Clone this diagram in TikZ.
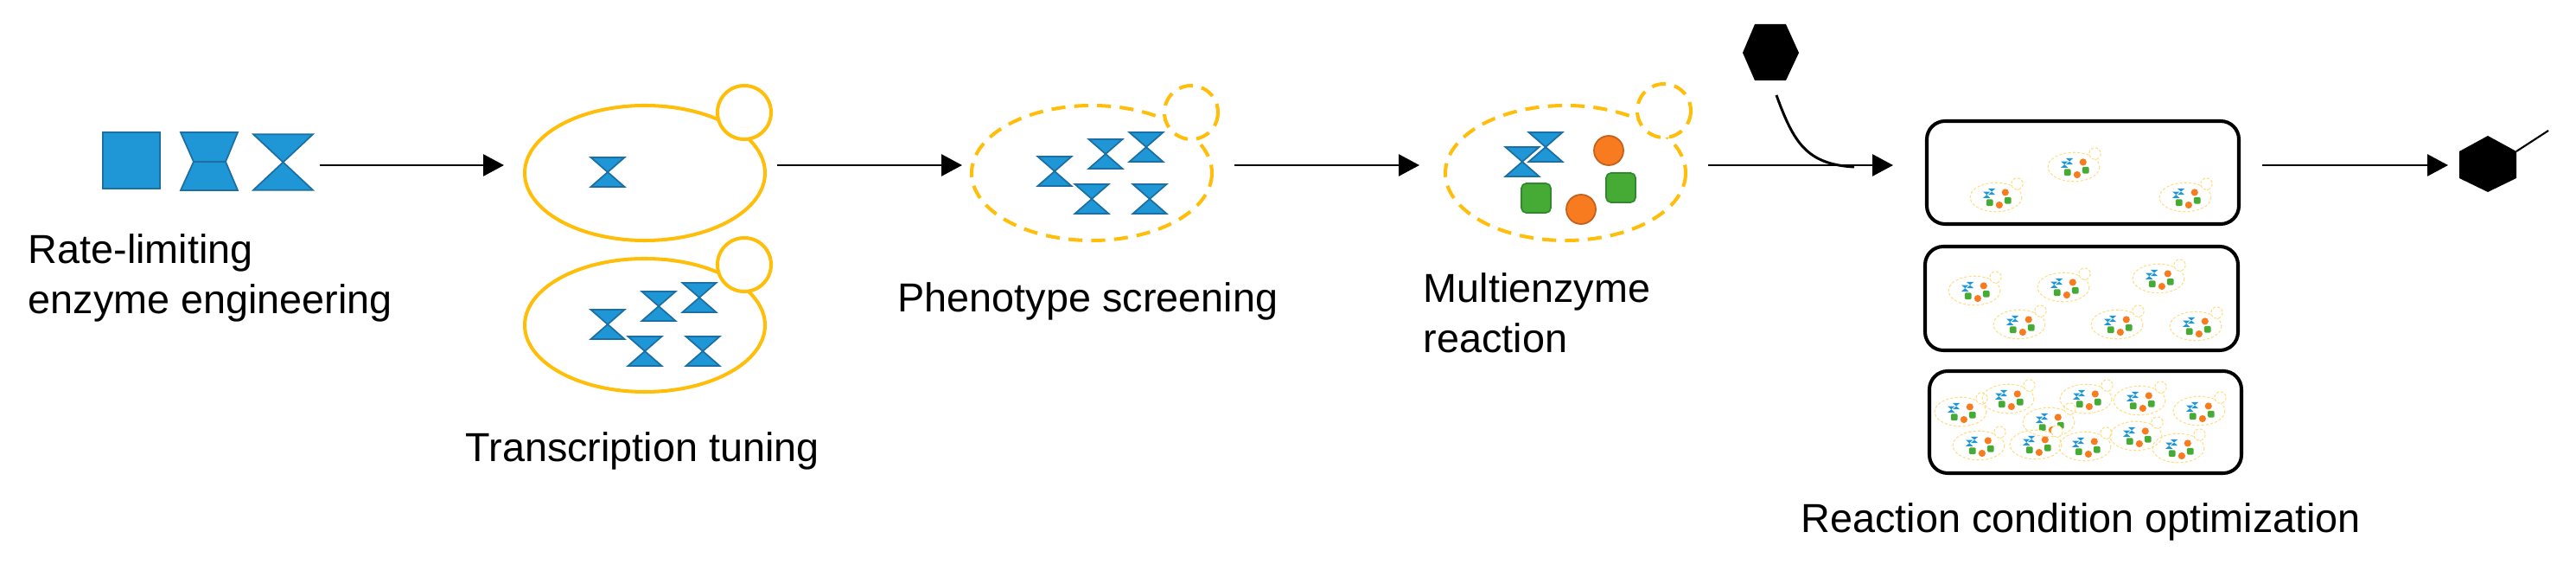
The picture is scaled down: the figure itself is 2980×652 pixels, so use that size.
\documentclass[tikz,border=0pt]{standalone}
\usepackage{fontspec}
\setmainfont{Liberation Sans}
\usepackage{xcolor}
\usetikzlibrary{arrows.meta}
\definecolor{enzfill}{HTML}{1F97D6}
\definecolor{enzedge}{HTML}{1B6FA3}
\definecolor{cellyel}{HTML}{FFBE0A}
\definecolor{minyel}{HTML}{FFDD85}
\definecolor{orgfill}{HTML}{F97B20}
\definecolor{orgedge}{HTML}{C2601C}
\definecolor{grnfill}{HTML}{45AB35}
\definecolor{grnedge}{HTML}{2F8A2B}
\tikzset{
  enzyme/.style={fill=enzfill,draw=enzedge,line width=.5pt,line join=miter},
  cellwall/.style={draw=cellyel,line width=1.15pt},
  cellbud/.style={cellwall,fill=white},
  dashwall/.style={cellwall,dash pattern=on 4.6pt off 2.9pt},
  dashbud/.style={dashwall,fill=white},
  flow/.style={draw=black,line width=.75pt,-{Triangle[length=6.8pt,width=7.1pt]}},
  tank/.style={draw=black,line width=1.15pt,rounded corners=6pt},
  label/.style={font=\fontsize{13.3}{16.5}\selectfont,anchor=base west,inner sep=0pt,align=left},
  hourglass/.pic={
    \draw[enzyme] (-19.5,-17) -- (19.5,-17) -- (0,0) -- cycle;
    \draw[enzyme] (-19.5,17) -- (19.5,17) -- (0,0) -- cycle;
  },
  minicell/.pic={
    \draw[draw=minyel,line width=.3pt,dash pattern=on .9pt off .6pt] (0,0) ellipse [x radius=139,y radius=78];
    \draw[draw=minyel,fill=white,line width=.3pt,dash pattern=on .9pt off .6pt] (114,-72) circle (31);
    \foreach \hx/\hy in {-50/-13,-23/-30} {
      \fill[enzfill] (\hx-19.5,\hy-17) -- (\hx+19.5,\hy-17) -- (\hx,\hy) -- cycle;
      \fill[enzfill] (\hx-19.5,\hy+17) -- (\hx+19.5,\hy+17) -- (\hx,\hy) -- cycle;
    }
    \foreach \ox/\oy in {50/-26,18/42} \fill[orgfill] (\ox,\oy) circle (19);
    \foreach \gx/\gy in {-34/29,64/17} \fill[grnfill,rounded corners=.4pt] (\gx-18,\gy-18) rectangle (\gx+18,\gy+18);
  }
}
\begin{document}
\begin{tikzpicture}[x=0.01cm,y=-0.01cm]
  \useasboundingbox (0,0) rectangle (2980,652);

  % enzyme variants
  \draw[enzyme,fill=enzfill] (119,153) rectangle (185,218);
  \draw[enzyme] (209,153) -- (275,153) -- (261,187) -- (275,220) -- (209,220) -- (224,187) -- cycle;
  \draw[enzyme] (224,187) -- (261,187);
  \pic[xscale=1.77,yscale=1.9] at (327.5,187.5) {hourglass};
  \node[label] (ratetext) at (32,363) {Rate-limiting\\enzyme engineering};

  % transcription tuning
  \draw[cellwall] (746,200) ellipse [x radius=139,y radius=78];
  \draw[cellbud] (861,130) circle (31);
  \pic at (703,199) {hourglass};
  \draw[cellwall] (746,376) ellipse [x radius=139,y radius=77];
  \draw[cellbud] (861,306) circle (31);
  \foreach \hx/\hy in {703/375,762/354,809/344,746/406,813/406}
    \pic at (\hx,\hy) {hourglass};
  \node[label] (tunetext) at (538,534) {Transcription tuning};

  % phenotype screening
  \draw[dashwall] (1263,200) ellipse [x radius=139,y radius=78];
  \draw[dashbud] (1378,130) circle (31);
  \foreach \hx/\hy in {1220/198,1279/178,1326/170,1263/230,1330/230}
    \pic at (\hx,\hy) {hourglass};
  \node[label] (phenotext) at (1038,361) {Phenotype screening};

  % multienzyme cell
  \draw[dashwall] (1811,200) ellipse [x radius=139,y radius=78];
  \draw[dashbud] (1925,128) circle (31);
  \pic at (1761,187) {hourglass};
  \pic at (1788,170) {hourglass};
  \foreach \ox/\oy in {1861/174,1829/242}
    \draw[fill=orgfill,draw=orgedge,line width=.5pt] (\ox,\oy) circle (17);
  \foreach \gx/\gy in {1777/229,1875/217}
    \draw[fill=grnfill,draw=grnedge,line width=.5pt,rounded corners=1.6pt] (\gx-17,\gy-17) rectangle (\gx+17,\gy+17);
  \node[label] (multitext) at (1646,408) {Multienzyme\\reaction};

  % reactors
  \draw[tank] (2229,140) rectangle (2590,259);
  \draw[tank] (2227,285) rectangle (2589,405);
  \draw[tank] (2232,429) rectangle (2593,547);
  \foreach \mx/\my in {2399/193,2309/228,2528/228,
      2284/336,2387/332,2497/322,2336/375,2449/375,2540/377,
      2268/476,2323/461,2370/488,2413/461,2475/463,2544/475,
      2289/515,2355/514,2412/516,2471/504,2520/518}
    \pic[scale=.215] at (\mx,\my) {minicell};
  \node[label] (condtext) at (2083,616) {Reaction condition optimization};

  % substrate and product
  \fill (2030,28) -- (2066,28) -- (2081,61) -- (2066,93) -- (2030,93) -- (2016,61) -- cycle;
  \fill (2878,157) -- (2911,175) -- (2911,206) -- (2878,222) -- (2845,206) -- (2845,175) -- cycle;
  \coordinate (prodjoin) at (2911,175);
  \coordinate (prodtail) at (2948,151);
  \draw[line width=.6pt] (prodjoin) -- (prodtail);

  % flow
  \coordinate (flowa) at (370,191);
  \coordinate (flowb) at (583,191);
  \coordinate (flowc) at (899,191);
  \coordinate (flowd) at (1113,191);
  \coordinate (flowe) at (1428,191);
  \coordinate (flowf) at (1642,191);
  \coordinate (flowg) at (1976,191);
  \coordinate (flowh) at (2190,191);
  \coordinate (flowi) at (2617,191);
  \coordinate (flowj) at (2832,191);
  \draw[flow] (flowa) -- (flowb);
  \draw[flow] (flowc) -- (flowd);
  \draw[flow] (flowe) -- (flowf);
  \draw[flow] (flowg) -- (flowh);
  \draw[flow] (flowi) -- (flowj);
  \coordinate (subsrc) at (2055,110);
  \coordinate (subend) at (2145,193);
  \draw[line width=.85pt] (subsrc) .. controls (2075,165) and (2090,190) .. (subend);
\end{tikzpicture}
\end{document}
